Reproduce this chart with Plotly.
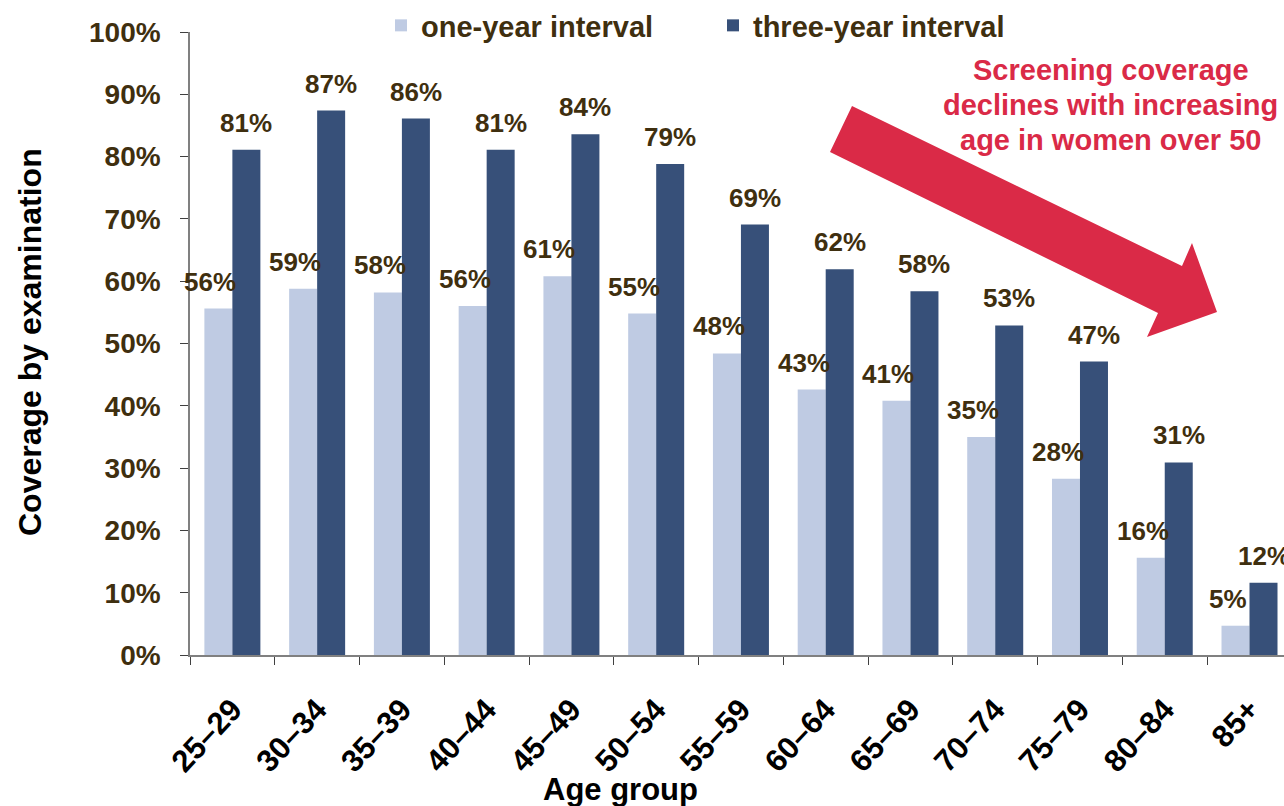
import plotly.graph_objects as go

# Screening coverage by age group, for two screening intervals (percent)
age_groups = ["25–29", "30–34", "35–39", "40–44", "45–49", "50–54", "55–59",
              "60–64", "65–69", "70–74", "75–79", "80–84", "85+"]
one_year = [55.6, 58.8, 58.2, 56.0, 60.8, 54.8, 48.4, 42.6, 40.8, 35.0, 28.3, 15.6, 4.7]
three_year = [81.1, 87.4, 86.1, 81.1, 83.6, 78.8, 69.1, 61.9, 58.4, 52.9, 47.1, 30.9, 11.6]
y_ticks = list(range(0, 101, 10))
callout_lines = ["Screening coverage", "declines with increasing", "age in women over 50"]

W, H = 1284, 806
M_L, M_R, M_T, M_B = 190, 0, 32, 151
PW, PH = W - M_L - M_R, H - M_T - M_B

FONT = "Liberation Sans, Arial, sans-serif"
BROWN = "#3F2F0F"
RED = "#DA2A47"
LIGHT = "#BFCBE3"
DARK = "#375079"
CAT_PX = 84.76  # width of one category slot


def px_x(px):
    return (px - M_L) / PW


def px_y(py):
    return (H - M_B - py) / PH


fig = go.Figure()
fig.add_trace(go.Bar(x=age_groups, y=one_year, name="one-year interval",
                     marker=dict(color=LIGHT, line=dict(width=0))))
fig.add_trace(go.Bar(x=age_groups, y=three_year, name="three-year interval",
                     marker=dict(color=DARK, line=dict(width=0))))

annotations = []
# value labels above the bars
for g, v1, v3 in zip(age_groups, one_year, three_year):
    annotations.append(dict(x=g, y=v1, xref="x", yref="y", text=f"{round(v1)}%",
                            showarrow=False, xshift=-22, yshift=10, yanchor="bottom",
                            font=dict(family=FONT, size=26, color=BROWN, weight="bold")))
    annotations.append(dict(x=g, y=v3, xref="x", yref="y", text=f"{round(v3)}%",
                            showarrow=False, xshift=14, yshift=10, yanchor="bottom",
                            font=dict(family=FONT, size=26, color=BROWN, weight="bold")))

# axis titles
annotations.append(dict(x=px_x(29.5), y=px_y(342.5), xref="paper", yref="paper",
                        text="Coverage by examination", textangle=-90, showarrow=False,
                        xanchor="center", yanchor="middle",
                        font=dict(family=FONT, size=32, color="black", weight="bold")))
annotations.append(dict(x=px_x(620), y=px_y(789), xref="paper", yref="paper",
                        text="Age group", showarrow=False,
                        xanchor="center", yanchor="middle",
                        font=dict(family=FONT, size=31, color="black", weight="bold")))

# call-out text, one line per annotation
for i, line in enumerate(callout_lines):
    annotations.append(dict(x=px_x(1110.5), y=px_y(70 + 35 * i), xref="paper", yref="paper",
                            text=line, showarrow=False, xanchor="center", yanchor="middle",
                            font=dict(family=FONT, size=29, color=RED, weight="bold")))

# block arrow pointing down to the oldest age groups
arrow_px = [(852, 106), (1182, 266), (1192, 243), (1217, 312),
            (1147, 337), (1158, 313), (830, 152)]
path = "M " + " L ".join(f"{px_x(x):.5f},{px_y(y):.5f}" for x, y in arrow_px) + " Z"

fig.update_layout(
    width=W, height=H,
    margin=dict(l=M_L, r=M_R, t=M_T, b=M_B, pad=0, autoexpand=False),
    paper_bgcolor="white", plot_bgcolor="white",
    barmode="group", bargap=1 - 56 / CAT_PX, bargroupgap=0,
    font=dict(family=FONT, color=BROWN),
    showlegend=True,
    legend=dict(orientation="h", x=px_x(381), y=1, xref="paper", yref="container",
                xanchor="left", yanchor="top",
                font=dict(family=FONT, size=29, color=BROWN, weight="bold"),
                entrywidth=287, entrywidthmode="pixels",
                bgcolor="rgba(0,0,0,0)", itemclick=False),
    shapes=[dict(type="path", path=path, xref="paper", yref="paper",
                 fillcolor=RED, line=dict(width=0), layer="above")],
    annotations=annotations,
    xaxis=dict(type="category", range=[-0.5, -0.5 + PW / CAT_PX],
               showline=True, linecolor="#808080", linewidth=1.5,
               ticks="outside", tickson="boundaries", ticklen=8, tickcolor="#404040",
               tickangle=-47, ticklabelstandoff=22,
               tickfont=dict(family=FONT, size=31, color="black", weight="bold"),
               showgrid=False, zeroline=False),
    yaxis=dict(range=[0, 100], tickvals=y_ticks, ticktext=[f"{t}%" for t in y_ticks],
               showline=True, linecolor="#808080", linewidth=1.5,
               ticks="outside", ticklen=8, tickcolor="#404040", ticklabelstandoff=14,
               tickfont=dict(family=FONT, size=28, color=BROWN, weight="bold"),
               showgrid=False, zeroline=False),
)

fig.write_html("out.html")
